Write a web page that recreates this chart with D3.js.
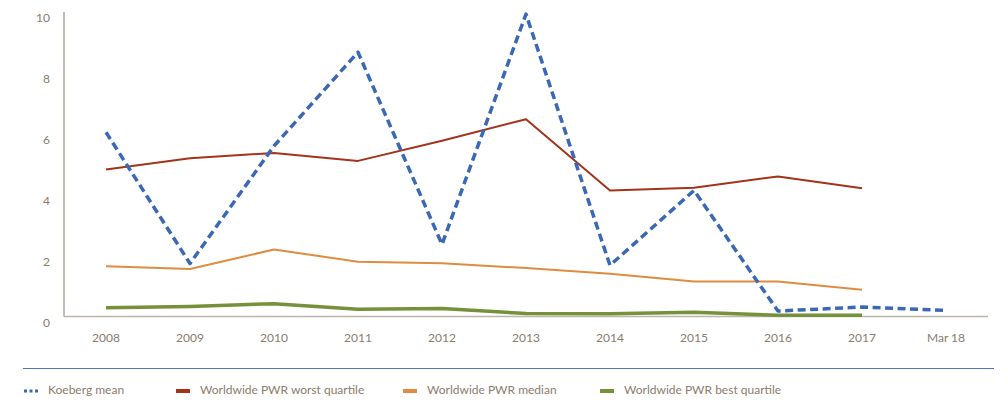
<!DOCTYPE html>
<html>
<head>
<meta charset="utf-8">
<script src="https://cdn.jsdelivr.net/npm/d3@7"></script>
<style>
  html, body { margin: 0; padding: 0; background: #fff; }
  svg { display: block; }
  text { font-family: Lato, "Open Sans", sans-serif; fill: #8a7c6e; }
</style>
</head>
<body>
<svg id="chart" width="1008" height="401"></svg>
<script>
// Categories and series
const categories = ["2008", "2009", "2010", "2011", "2012", "2013", "2014", "2015", "2016", "2017", "Mar 18"];
const koebergMean = [6.05, 1.74, 5.6, 8.68, 2.37, 9.93, 1.68, 4.14, 0.18, 0.31, 0.2];
const worstQuartile = [4.83, 5.2, 5.37, 5.11, 5.77, 6.48, 4.14, 4.23, 4.6, 4.21];
const medianValues = [1.65, 1.56, 2.2, 1.8, 1.75, 1.59, 1.4, 1.15, 1.15, 0.88];
const bestQuartile = [0.29, 0.33, 0.42, 0.24, 0.26, 0.1, 0.09, 0.14, 0.04, 0.04];
const yTicks = [0, 2, 4, 6, 8, 10];

const seriesDefs = [
  { name: "Koeberg mean", values: koebergMean, color: "#3b68b3", width: 3.5, dash: "8,4.5" },
  { name: "Worldwide PWR worst quartile", values: worstQuartile, color: "#a3331a", width: 2, dash: null },
  { name: "Worldwide PWR median", values: medianValues, color: "#e08c40", width: 2, dash: null },
  { name: "Worldwide PWR best quartile", values: bestQuartile, color: "#76913a", width: 3.5, dash: null }
];

const svg = d3.select("#chart");
const plotLeft = 64, plotRight = 988, plotTop = 12, plotBottom = 316.5;

const x = d3.scalePoint().domain(categories).range([plotLeft, plotRight]).padding(0.5);
const y = d3.scaleLinear().domain([0, 10]).range([plotBottom, plotTop]);

// Axis lines
svg.append("line").attr("x1", plotLeft).attr("x2", plotLeft).attr("y1", plotTop).attr("y2", plotBottom)
  .attr("stroke", "#a39888").attr("stroke-width", 1.3);
svg.append("line").attr("x1", plotLeft).attr("x2", plotRight).attr("y1", plotBottom).attr("y2", plotBottom)
  .attr("stroke", "#bdb5aa").attr("stroke-width", 1.6);

// Y tick labels
svg.append("g").selectAll("text").data(yTicks).join("text")
  .attr("x", 50).attr("y", d => y(d) + 7)
  .attr("text-anchor", "end").attr("dominant-baseline", "middle")
  .attr("font-size", 12).text(d => d);

// X tick labels
svg.append("g").selectAll("text").data(categories).join("text")
  .attr("x", d => x(d)).attr("y", 339)
  .attr("text-anchor", "middle").attr("dominant-baseline", "middle")
  .attr("font-size", 12).text(d => d);

// Series lines, drawn back to front
const line = d3.line().x((d, i) => x(categories[i])).y(d => y(d));
const order = [3, 2, 1, 0];
order.forEach(k => {
  const s = seriesDefs[k];
  svg.append("path")
    .datum(s.values)
    .attr("d", line)
    .attr("fill", "none")
    .attr("stroke", s.color)
    .attr("stroke-width", s.width)
    .attr("stroke-linejoin", "round")
    .attr("stroke-dasharray", s.dash);
});

// Legend separator
svg.append("line").attr("x1", 23).attr("x2", 994).attr("y1", 368.5).attr("y2", 368.5)
  .attr("stroke", "#4a76c4").attr("stroke-width", 1.2);

// Legend
const legendX = [24, 176, 403, 600];
const legend = svg.append("g").selectAll("g").data(seriesDefs).join("g")
  .attr("transform", (d, i) => `translate(${legendX[i]},391)`);
legend.append("line")
  .attr("x1", 0).attr("x2", 14).attr("y1", 0).attr("y2", 0)
  .attr("stroke", d => d.color)
  .attr("stroke-width", (d, i) => i === 0 ? 3 : 4)
  .attr("stroke-dasharray", (d, i) => i === 0 ? "3,2.5" : null);
legend.append("text")
  .attr("x", 24)
  .attr("y", 0).attr("dominant-baseline", "middle")
  .attr("font-size", 12).text(d => d.name);
</script>
</body>
</html>
